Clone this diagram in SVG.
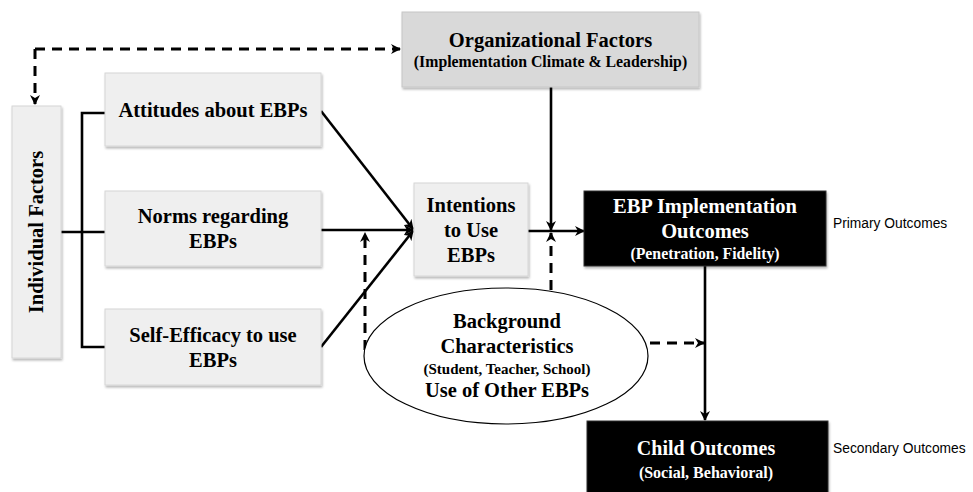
<svg xmlns="http://www.w3.org/2000/svg" width="973" height="492" viewBox="0 0 973 492">
  <defs>
    <filter id="shadow" x="-10%" y="-10%" width="120%" height="130%">
      <feDropShadow dx="1" dy="2" stdDeviation="1.2" flood-color="#000" flood-opacity="0.28"/>
    </filter>
    <marker id="arrow" viewBox="0 0 10 10" refX="9" refY="5" markerWidth="10" markerHeight="10" markerUnits="userSpaceOnUse" orient="auto">
      <path d="M0,0 L10,5 L0,10 L3,5 Z" fill="#000"/>
    </marker>
  </defs>
  <style>
    .box { fill: #efefef; stroke: #d6d6d6; stroke-width: 1; filter: url(#shadow); }
    .org { fill: #d9d9d9; stroke: #c6c6c6; stroke-width: 1; filter: url(#shadow); }
    .dark { fill: #000; stroke: #333; stroke-width: 1; filter: url(#shadow); }
    .t { font-family: "Liberation Serif", "Times New Roman", serif; font-weight: bold; font-size: 20.5px; fill: #000; text-anchor: middle; }
    .s { font-family: "Liberation Serif", "Times New Roman", serif; font-weight: bold; font-size: 15.8px; fill: #000; text-anchor: middle; }
    .w { fill: #fff; }
    .lbl { font-family: "Liberation Sans", Arial, sans-serif; font-size: 13.8px; fill: #000; }
    .ln { fill: none; stroke: #000; stroke-width: 2.6; }
    .dash { fill: none; stroke: #000; stroke-width: 3; stroke-dasharray: 10 7; }
  </style>

  <!-- connectors -->
  <g id="connectors">
    <!-- individual factors <-> organisational factors -->
    <path class="dash" d="M35,49 H400" marker-end="url(#arrow)"/>
    <path class="dash" d="M35,49 V104" marker-end="url(#arrow)"/>
    <!-- bracket from individual factors to the three beliefs -->
    <path class="ln" d="M61,232 H105"/>
    <path class="ln" d="M105,113 H82 V347 H105"/>
    <!-- beliefs to intentions -->
    <path class="ln" d="M321,111 L413,229" marker-end="url(#arrow)"/>
    <path class="ln" d="M321,230 H413" marker-end="url(#arrow)"/>
    <path class="ln" d="M321,347 L413,231" marker-end="url(#arrow)"/>
    <!-- background characteristics moderating beliefs -> intentions -->
    <path class="dash" d="M365,350 V233" marker-end="url(#arrow)"/>
    <!-- intentions to implementation outcomes -->
    <path class="ln" d="M528,231 H584" marker-end="url(#arrow)"/>
    <!-- organisational factors moderating intentions -> implementation -->
    <path class="ln" d="M551,87 V230" marker-end="url(#arrow)"/>
    <path class="dash" d="M551,290 V233" marker-end="url(#arrow)"/>
    <!-- implementation to child outcomes -->
    <path class="ln" d="M705,266 V420" marker-end="url(#arrow)"/>
    <!-- background characteristics to child outcomes path -->
    <path class="dash" d="M650,343 H704" marker-end="url(#arrow)"/>
  </g>

  <g id="organizational-factors">
    <rect class="org" x="402" y="12" width="297" height="75"/>
    <text class="t" x="550.5" y="47">Organizational Factors</text>
    <text class="s" x="550.5" y="67">(Implementation Climate &amp; Leadership)</text>
  </g>

  <g id="individual-factors">
    <rect class="box" x="12" y="106" width="49" height="252"/>
    <text class="t" transform="translate(43,232) rotate(-90)" x="0" y="0">Individual Factors</text>
  </g>

  <g id="attitudes">
    <rect class="box" x="105" y="73" width="216" height="73"/>
    <text class="t" x="213" y="117">Attitudes about EBPs</text>
  </g>

  <g id="norms">
    <rect class="box" x="105" y="191" width="216" height="75"/>
    <text class="t" x="213" y="223">Norms regarding</text>
    <text class="t" x="213" y="248">EBPs</text>
  </g>

  <g id="self-efficacy">
    <rect class="box" x="105" y="309" width="216" height="76"/>
    <text class="t" x="213" y="342">Self-Efficacy to use</text>
    <text class="t" x="213" y="367">EBPs</text>
  </g>

  <g id="intentions">
    <rect class="box" x="414" y="183" width="114" height="93"/>
    <text class="t" x="471" y="212">Intentions</text>
    <text class="t" x="471" y="237">to Use</text>
    <text class="t" x="471" y="262">EBPs</text>
  </g>

  <g id="background-characteristics">
    <ellipse cx="506" cy="356" rx="142" ry="68" fill="#fff" stroke="#000" stroke-width="1.2"/>
    <text class="t" x="507" y="328">Background</text>
    <text class="t" x="507" y="353">Characteristics</text>
    <text class="s" x="507" y="374" style="font-size:15px">(Student, Teacher, School)</text>
    <text class="t" x="507" y="397">Use of Other EBPs</text>
  </g>

  <g id="implementation-outcomes">
    <rect class="dark" x="584" y="191" width="242" height="75"/>
    <text class="t w" x="705" y="213">EBP Implementation</text>
    <text class="t w" x="705" y="238">Outcomes</text>
    <text class="s w" x="705" y="259">(Penetration, Fidelity)</text>
  </g>

  <g id="child-outcomes">
    <rect class="dark" x="587" y="421" width="241" height="75"/>
    <text class="t w" x="706" y="455" style="font-size:20px">Child Outcomes</text>
    <text class="s w" x="706" y="478" style="font-size:16px">(Social, Behavioral)</text>
  </g>

  <g id="outcome-labels">
    <text class="lbl" x="833" y="228">Primary Outcomes</text>
    <text class="lbl" x="833" y="453">Secondary Outcomes</text>
  </g>
</svg>
